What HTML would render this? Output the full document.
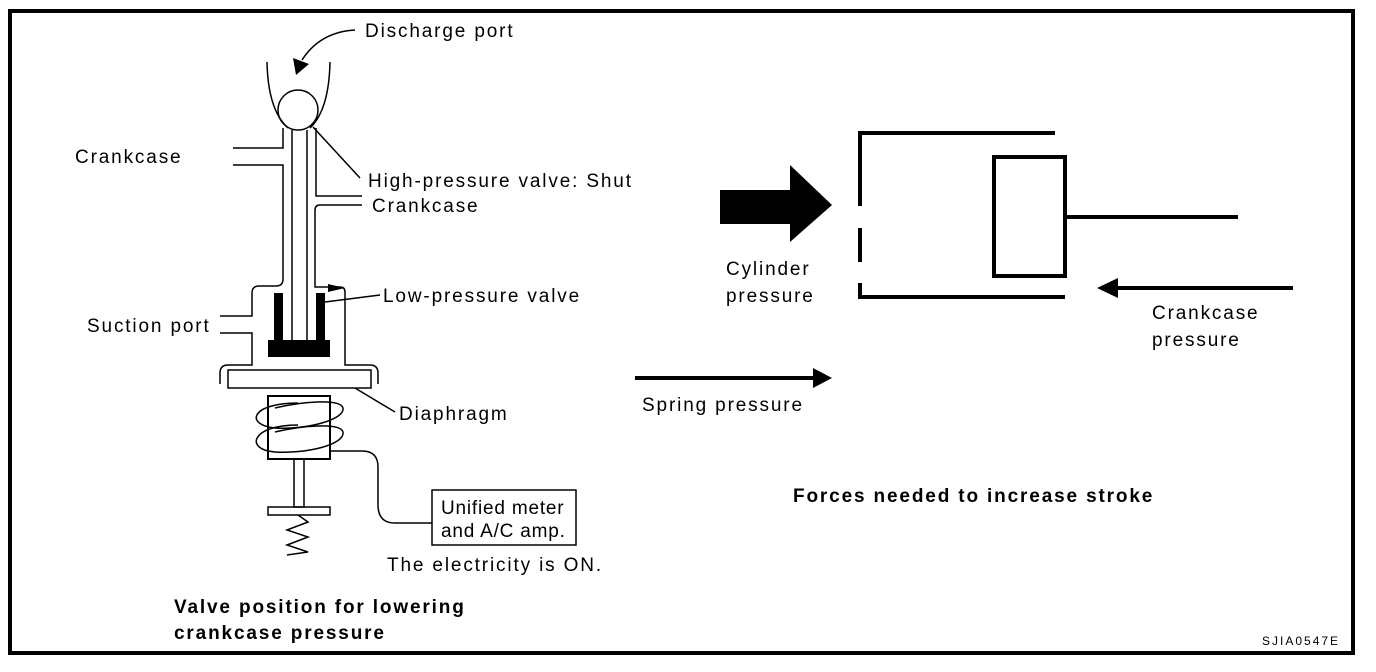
<!DOCTYPE html>
<html><head><meta charset="utf-8"><style>
html,body{margin:0;padding:0;background:#fff;}
svg{display:block;}
text{font-family:"Liberation Sans",Arial,sans-serif;font-size:19px;letter-spacing:1.85px;fill:#000;}
.b{font-weight:bold;}
.bx{letter-spacing:0.8px;}
</style></head><body>
<svg width="1376" height="672" viewBox="0 0 1376 672" xmlns="http://www.w3.org/2000/svg">
<rect x="10" y="11" width="1343" height="642" fill="none" stroke="#000" stroke-width="4"/>
<g fill="none" stroke="#000" stroke-width="1.5">
<path d="M267 62 Q268 110 288 128"/>
<path d="M330 62 Q329 110 310 128"/>
<circle cx="298" cy="110" r="20"/>
<path d="M283 128 V148 H233"/>
<path d="M233 165 H283 V279 Q283 286 276 286 H259 Q252 286 252 293 V316 H220"/>
<path d="M220 333 H252 V365 H228 Q220 365 220 373 V384"/>
<path d="M292 130 V340"/><path d="M307 130 V340"/>
<path d="M316 128 V196 H362"/>
<path d="M362 205 H320 Q315 205 315 210 V287 H340 Q345 287 345 292 V365 H370 Q378 365 378 373 V384"/>
<rect x="228" y="370" width="143" height="18"/>
<rect x="268" y="396" width="62" height="63" stroke-width="2"/>
<path d="M298 403 C250 403 245 425 275 428 C305 430 345 420 343 408 C340 398 300 402 275 408"/>
<path d="M298 425 C250 425 245 450 275 452 C305 454 345 445 343 432 C340 422 300 426 275 432"/>
<rect x="294" y="459" width="10" height="48"/>
<rect x="268" y="507" width="62" height="8"/>
<path d="M298 515 L308 522 L287 530 L308 537 L287 545 L308 552 L287 555"/>
<path d="M330 451 H362 Q378 451 378 467 V505 Q378 523 395 523 H432"/>
<rect x="432" y="490" width="144" height="55"/>
<path d="M355 30 Q320 32 302 60"/>
<path d="M313 127 L360 178"/>
<path d="M325 302 L380 295"/>
<path d="M355 388 L395 412"/>
</g>
<g fill="#000">
<polygon points="296,75 293,58 309,64"/>
<polygon points="328,284 345,288 328,292"/>
<rect x="274" y="293" width="9" height="52"/>
<rect x="316" y="293" width="9" height="52"/>
<rect x="268" y="340" width="62" height="17"/>
<rect x="720" y="190" width="70" height="34"/>
<polygon points="790,165 832,205 790,242"/>
<rect x="635" y="376" width="180" height="4"/>
<polygon points="813,368 832,378 813,388"/>
<rect x="1115" y="286" width="178" height="4"/>
<polygon points="1097,288 1118,278 1118,298"/>
</g>
<g fill="none" stroke="#000" stroke-width="4">
<path d="M1055 133 H860 V206"/>
<path d="M860 228 V262"/>
<path d="M860 283 V297 H1065"/>
<rect x="994" y="157" width="71" height="119"/>
<path d="M1065 217 H1238"/>
</g>
<text x="365" y="37">Discharge port</text>
<text x="75" y="163">Crankcase</text>
<text x="368" y="187">High-pressure valve: Shut</text>
<text x="372" y="212">Crankcase</text>
<text x="383" y="302">Low-pressure valve</text>
<text x="87" y="332">Suction port</text>
<text x="399" y="420">Diaphragm</text>
<text x="441" y="514" class="bx">Unified meter</text>
<text x="441" y="537" class="bx">and A/C amp.</text>
<text x="387" y="571">The electricity is ON.</text>
<text x="174" y="613" class="b">Valve position for lowering</text>
<text x="174" y="639" class="b">crankcase pressure</text>
<text x="726" y="275">Cylinder</text>
<text x="726" y="302">pressure</text>
<text x="1152" y="319">Crankcase</text>
<text x="1152" y="346">pressure</text>
<text x="642" y="411">Spring pressure</text>
<text x="793" y="502" class="b">Forces needed to increase stroke</text>
<text x="1262" y="645" style="font-size:12px;letter-spacing:2px">SJIA0547E</text>
</svg>
</body></html>
